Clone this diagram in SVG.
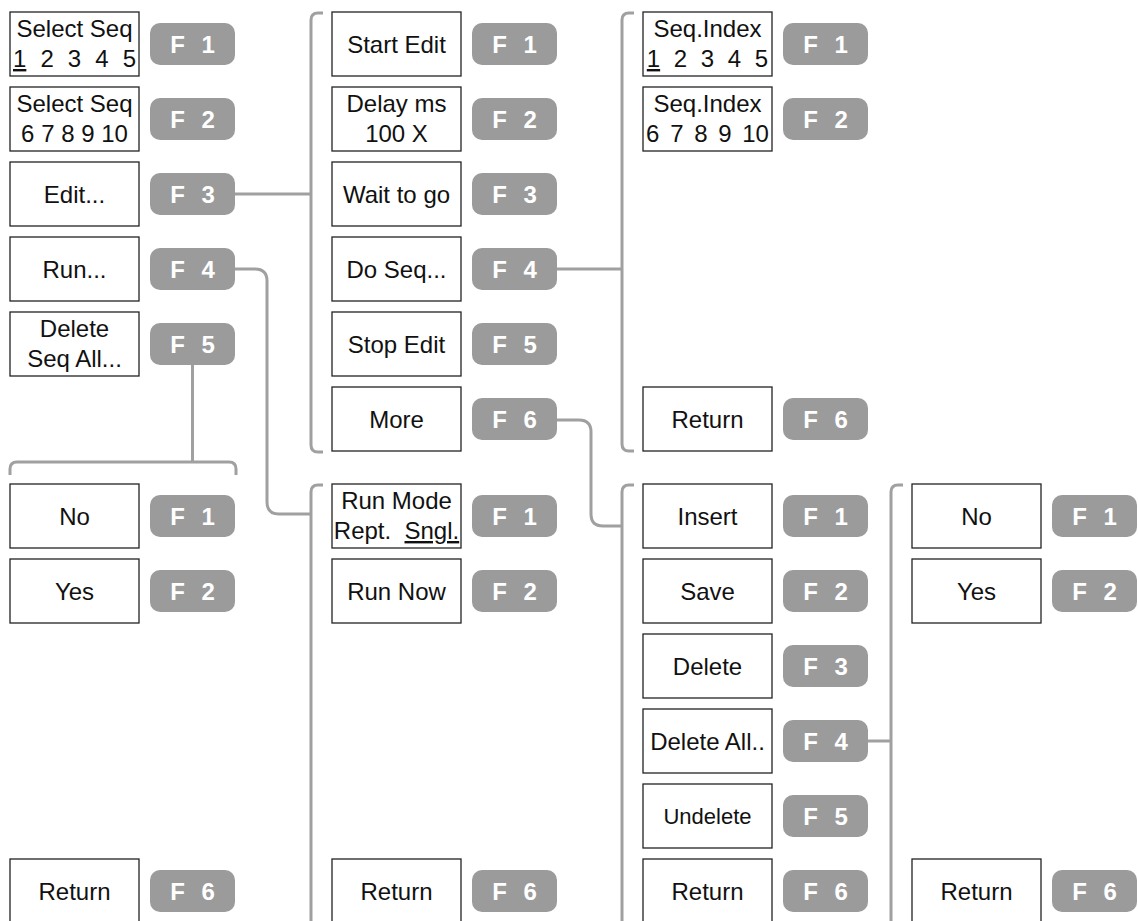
<svg xmlns="http://www.w3.org/2000/svg" width="1138" height="921" viewBox="0 0 1138 921">
<style>
.box{fill:#fff;stroke:#222;stroke-width:1.3}
.btn{fill:#9b9b9b}
.lbl{font-family:"Liberation Sans",Arial,sans-serif;font-size:24px;fill:#111;text-anchor:middle}
.key{font-family:"Liberation Sans",Arial,sans-serif;font-size:24px;font-weight:bold;fill:#fff;text-anchor:middle;word-spacing:10px}
.wire{fill:none;stroke:#a0a0a0;stroke-width:3}
</style>
<g id="connectors">
<path class="wire" d="M235,194 H311"/>
<path class="wire" d="M323,13 H318 Q311,13 311,20 V445 Q311,452 318,452 H323"/>
<path class="wire" d="M557,269 H622"/>
<path class="wire" d="M634,13 H629 Q622,13 622,20 V444 Q622,451 629,451 H634"/>
<path class="wire" d="M235,269 H255 Q267,269 267,281 V502 Q267,514 279,514 H311"/>
<path class="wire" d="M323,485 H318 Q311,485 311,492 V921"/>
<path class="wire" d="M192.5,365 V462"/>
<path class="wire" d="M10,475 V469 Q10,462 17,462 H229 Q236,462 236,469 V475"/>
<path class="wire" d="M557,420 H579 Q591,420 591,432 V514 Q591,526 603,526 H622"/>
<path class="wire" d="M634,485 H629 Q622,485 622,492 V921"/>
<path class="wire" d="M868,741 H891"/>
<path class="wire" d="M903,485 H898 Q891,485 891,492 V921"/>
</g>
<!-- Column 1 top -->
<g id="c1-select-seq-1"><rect class="box" x="10" y="12" width="129" height="64"/><text class="lbl" x="74.5" y="36.5">Select Seq</text><text class="lbl" x="74.5" y="67" style="word-spacing:7.4px"><tspan text-decoration="underline">1</tspan> 2 3 4 5</text><rect class="btn" x="150" y="23" width="85" height="42" rx="10"/><text class="key" x="192.5" y="52.6">F 1</text></g>
<g id="c1-select-seq-6"><rect class="box" x="10" y="87" width="129" height="64"/><text class="lbl" x="74.5" y="111.5">Select Seq</text><text class="lbl" x="74.5" y="142">6 7 8 9 10</text><rect class="btn" x="150" y="98" width="85" height="42" rx="10"/><text class="key" x="192.5" y="127.6">F 2</text></g>
<g id="c1-edit"><rect class="box" x="10" y="162" width="129" height="64"/><text class="lbl" x="74.5" y="202.5">Edit...</text><rect class="btn" x="150" y="173" width="85" height="42" rx="10"/><text class="key" x="192.5" y="202.6">F 3</text></g>
<g id="c1-run"><rect class="box" x="10" y="237" width="129" height="64"/><text class="lbl" x="74.5" y="277.5">Run...</text><rect class="btn" x="150" y="248" width="85" height="42" rx="10"/><text class="key" x="192.5" y="277.6">F 4</text></g>
<g id="c1-delete-seq-all"><rect class="box" x="10" y="312" width="129" height="64"/><text class="lbl" x="74.5" y="336.5">Delete</text><text class="lbl" x="74.5" y="367">Seq All...</text><rect class="btn" x="150" y="323" width="85" height="42" rx="10"/><text class="key" x="192.5" y="352.6">F 5</text></g>
<!-- Column 1 bottom -->
<g id="c1-no"><rect class="box" x="10" y="484" width="129" height="64"/><text class="lbl" x="74.5" y="524.5">No</text><rect class="btn" x="150" y="495" width="85" height="42" rx="10"/><text class="key" x="192.5" y="524.6">F 1</text></g>
<g id="c1-yes"><rect class="box" x="10" y="559" width="129" height="64"/><text class="lbl" x="74.5" y="599.5">Yes</text><rect class="btn" x="150" y="570" width="85" height="42" rx="10"/><text class="key" x="192.5" y="599.6">F 2</text></g>
<g id="c1-return"><rect class="box" x="10" y="859" width="129" height="64"/><text class="lbl" x="74.5" y="899.5">Return</text><rect class="btn" x="150" y="870" width="85" height="42" rx="10"/><text class="key" x="192.5" y="899.6">F 6</text></g>
<!-- Column 2 top -->
<g id="c2-start-edit"><rect class="box" x="332" y="12" width="129" height="64"/><text class="lbl" x="396.5" y="52.5">Start Edit</text><rect class="btn" x="472" y="23" width="85" height="42" rx="10"/><text class="key" x="514.5" y="52.6">F 1</text></g>
<g id="c2-delay"><rect class="box" x="332" y="87" width="129" height="64"/><text class="lbl" x="396.5" y="111.5">Delay ms</text><text class="lbl" x="396.5" y="142">100 X</text><rect class="btn" x="472" y="98" width="85" height="42" rx="10"/><text class="key" x="514.5" y="127.6">F 2</text></g>
<g id="c2-wait"><rect class="box" x="332" y="162" width="129" height="64"/><text class="lbl" x="396.5" y="202.5">Wait to go</text><rect class="btn" x="472" y="173" width="85" height="42" rx="10"/><text class="key" x="514.5" y="202.6">F 3</text></g>
<g id="c2-do-seq"><rect class="box" x="332" y="237" width="129" height="64"/><text class="lbl" x="396.5" y="277.5">Do Seq...</text><rect class="btn" x="472" y="248" width="85" height="42" rx="10"/><text class="key" x="514.5" y="277.6">F 4</text></g>
<g id="c2-stop-edit"><rect class="box" x="332" y="312" width="129" height="64"/><text class="lbl" x="396.5" y="352.5">Stop Edit</text><rect class="btn" x="472" y="323" width="85" height="42" rx="10"/><text class="key" x="514.5" y="352.6">F 5</text></g>
<g id="c2-more"><rect class="box" x="332" y="387" width="129" height="64"/><text class="lbl" x="396.5" y="427.5">More</text><rect class="btn" x="472" y="398" width="85" height="42" rx="10"/><text class="key" x="514.5" y="427.6">F 6</text></g>
<!-- Column 2 bottom -->
<g id="c2-run-mode"><rect class="box" x="332" y="484" width="129" height="64"/><text class="lbl" x="396.5" y="508.5">Run Mode</text><text class="lbl" x="396.5" y="539" xml:space="preserve">Rept.  <tspan text-decoration="underline">Sngl.</tspan></text><rect class="btn" x="472" y="495" width="85" height="42" rx="10"/><text class="key" x="514.5" y="524.6">F 1</text></g>
<g id="c2-run-now"><rect class="box" x="332" y="559" width="129" height="64"/><text class="lbl" x="396.5" y="599.5">Run Now</text><rect class="btn" x="472" y="570" width="85" height="42" rx="10"/><text class="key" x="514.5" y="599.6">F 2</text></g>
<g id="c2-return"><rect class="box" x="332" y="859" width="129" height="64"/><text class="lbl" x="396.5" y="899.5">Return</text><rect class="btn" x="472" y="870" width="85" height="42" rx="10"/><text class="key" x="514.5" y="899.6">F 6</text></g>
<!-- Column 3 top -->
<g id="c3-seq-index-1"><rect class="box" x="643" y="12" width="129" height="64"/><text class="lbl" x="707.5" y="36.5">Seq.Index</text><text class="lbl" x="707.5" y="67" style="word-spacing:7px"><tspan text-decoration="underline">1</tspan> 2 3 4 5</text><rect class="btn" x="783" y="23" width="85" height="42" rx="10"/><text class="key" x="825.5" y="52.6">F 1</text></g>
<g id="c3-seq-index-6"><rect class="box" x="643" y="87" width="129" height="64"/><text class="lbl" x="707.5" y="111.5">Seq.Index</text><text class="lbl" x="707.5" y="142" style="word-spacing:4px">6 7 8 9 10</text><rect class="btn" x="783" y="98" width="85" height="42" rx="10"/><text class="key" x="825.5" y="127.6">F 2</text></g>
<g id="c3-return-top"><rect class="box" x="643" y="387" width="129" height="64"/><text class="lbl" x="707.5" y="427.5">Return</text><rect class="btn" x="783" y="398" width="85" height="42" rx="10"/><text class="key" x="825.5" y="427.6">F 6</text></g>
<!-- Column 3 bottom -->
<g id="c3-insert"><rect class="box" x="643" y="484" width="129" height="64"/><text class="lbl" x="707.5" y="524.5">Insert</text><rect class="btn" x="783" y="495" width="85" height="42" rx="10"/><text class="key" x="825.5" y="524.6">F 1</text></g>
<g id="c3-save"><rect class="box" x="643" y="559" width="129" height="64"/><text class="lbl" x="707.5" y="599.5">Save</text><rect class="btn" x="783" y="570" width="85" height="42" rx="10"/><text class="key" x="825.5" y="599.6">F 2</text></g>
<g id="c3-delete"><rect class="box" x="643" y="634" width="129" height="64"/><text class="lbl" x="707.5" y="674.5">Delete</text><rect class="btn" x="783" y="645" width="85" height="42" rx="10"/><text class="key" x="825.5" y="674.6">F 3</text></g>
<g id="c3-delete-all"><rect class="box" x="643" y="709" width="129" height="64"/><text class="lbl" x="707.5" y="749.5">Delete All..</text><rect class="btn" x="783" y="720" width="85" height="42" rx="10"/><text class="key" x="825.5" y="749.6">F 4</text></g>
<g id="c3-undelete"><rect class="box" x="643" y="784" width="129" height="64"/><text class="lbl" x="707.5" y="824" style="font-size:22px">Undelete</text><rect class="btn" x="783" y="795" width="85" height="42" rx="10"/><text class="key" x="825.5" y="824.6">F 5</text></g>
<g id="c3-return"><rect class="box" x="643" y="859" width="129" height="64"/><text class="lbl" x="707.5" y="899.5">Return</text><rect class="btn" x="783" y="870" width="85" height="42" rx="10"/><text class="key" x="825.5" y="899.6">F 6</text></g>
<!-- Column 4 -->
<g id="c4-no"><rect class="box" x="912" y="484" width="129" height="64"/><text class="lbl" x="976.5" y="524.5">No</text><rect class="btn" x="1052" y="495" width="85" height="42" rx="10"/><text class="key" x="1094.5" y="524.6">F 1</text></g>
<g id="c4-yes"><rect class="box" x="912" y="559" width="129" height="64"/><text class="lbl" x="976.5" y="599.5">Yes</text><rect class="btn" x="1052" y="570" width="85" height="42" rx="10"/><text class="key" x="1094.5" y="599.6">F 2</text></g>
<g id="c4-return"><rect class="box" x="912" y="859" width="129" height="64"/><text class="lbl" x="976.5" y="899.5">Return</text><rect class="btn" x="1052" y="870" width="85" height="42" rx="10"/><text class="key" x="1094.5" y="899.6">F 6</text></g>
</svg>
